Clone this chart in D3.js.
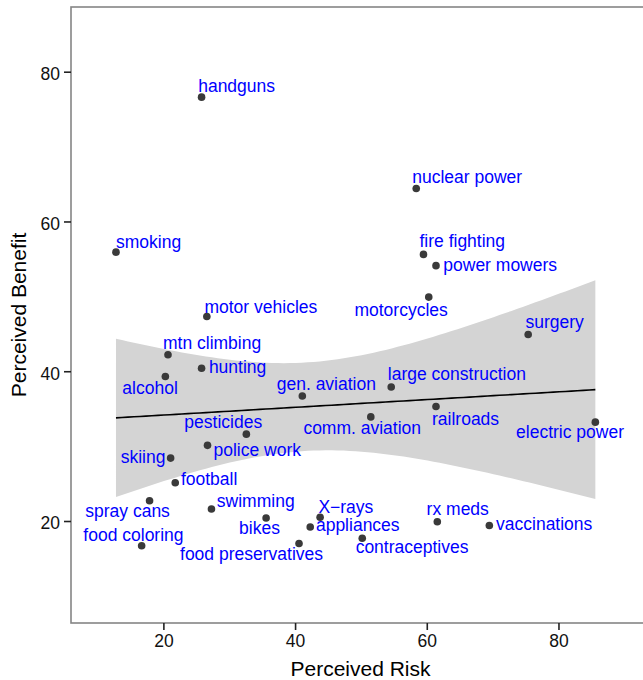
<!DOCTYPE html>
<html>
<head>
<meta charset="utf-8">
<script src="https://cdn.jsdelivr.net/npm/d3@7/dist/d3.min.js"></script>
<style>
  html, body { margin: 0; padding: 0; background: #fff; }
  svg { display: block; font-family: "Liberation Sans", Arial, Helvetica, sans-serif; }
</style>
</head>
<body>
<svg id="chart" width="643" height="680"></svg>
<script>
// Perceived risk vs. perceived benefit of activities and technologies
const activities = [
  "handguns", "smoking", "nuclear power", "fire fighting", "power mowers",
  "motorcycles", "surgery", "electric power", "motor vehicles", "mtn climbing",
  "hunting", "alcohol", "pesticides", "police work", "skiing",
  "football", "spray cans", "food coloring", "swimming", "bikes",
  "X\u2212rays", "appliances", "food preservatives", "contraceptives", "rx meds",
  "vaccinations", "gen. aviation", "large construction", "comm. aviation", "railroads"
];
const risk = [
  25.8, 12.8, 58.4, 59.5, 61.4,
  60.3, 75.4, 85.6, 26.6, 20.7,
  25.8, 20.3, 32.6, 26.7, 21.1,
  21.8, 17.9, 16.7, 27.3, 35.6,
  43.8, 42.3, 40.6, 50.2, 61.6,
  69.5, 41.1, 54.6, 51.5, 61.4
];
const benefit = [
  76.6, 55.9, 64.4, 55.6, 54.1,
  49.9, 44.9, 33.2, 47.3, 42.2,
  40.4, 39.3, 31.6, 30.1, 28.4,
  25.1, 22.7, 16.7, 21.6, 20.4,
  20.5, 19.2, 17.0, 17.7, 19.9,
  19.4, 36.7, 37.9, 33.9, 35.3
];
const xTicks = [20, 40, 60, 80];
const yTicks = [20, 40, 60, 80];

// Label placement relative to each point (pixels: left edge, baseline)
const labelNudge = [
  [-3.4, -5], [0, -3.7], [-4, -5.4], [-4, -7.6], [7.3, 5],
  [-74.3, 18.4], [-2.7, -6.4], [-79.3, 16], [-2.4, -4], [-5, -5.7],
  [7.3, 4.4], [-43, 17.6], [-62, -6], [6, 11], [-50, 4.4],
  [5.7, 2], [-64.3, 16], [-58.3, -5], [5.4, -2.3], [-27, 16],
  [-1.7, -4.3], [5.7, 4.4], [-119, 16.3], [-6.6, 15], [-10.7, -6.7],
  [6.7, 4], [-25.6, -6.4], [-3.4, -7.3], [-67.4, 17.3], [-4, 18.3]
];

const data = activities.map((name, i) => ({ name, x: risk[i], y: benefit[i], nudge: labelNudge[i] }));

const svg = d3.select("#chart");
const panel = { left: 71, top: 7, right: 650, bottom: 623 };

const x = d3.scaleLinear().domain([5.97, 93.9]).range([panel.left, panel.right]);
const y = d3.scaleLinear().domain([6.38, 88.64]).range([panel.bottom, panel.top]);

// Linear fit with 95% confidence band
const n = data.length;
const mx = d3.mean(data, d => d.x), my = d3.mean(data, d => d.y);
const sxx = d3.sum(data, d => (d.x - mx) ** 2);
const sxy = d3.sum(data, d => (d.x - mx) * (d.y - my));
const slope = sxy / sxx, intercept = my - slope * mx;
const sse = d3.sum(data, d => (d.y - (intercept + slope * d.x)) ** 2);
const se = Math.sqrt(sse / (n - 2));
const tCrit = 2.048; // t(0.975, df = 28)
const [xmin, xmax] = d3.extent(data, d => d.x);
const fit = d3.range(0, 81).map(k => {
  const xv = xmin + (xmax - xmin) * k / 80;
  const yv = intercept + slope * xv;
  const hw = tCrit * se * Math.sqrt(1 / n + (xv - mx) ** 2 / sxx);
  return { x: xv, y: yv, lo: yv - hw, hi: yv + hw };
});

svg.append("defs").append("clipPath").attr("id", "panel-clip")
  .append("rect").attr("x", panel.left).attr("y", panel.top)
  .attr("width", panel.right - panel.left).attr("height", panel.bottom - panel.top);

const g = svg.append("g").attr("clip-path", "url(#panel-clip)");

g.append("path")
  .datum(fit)
  .attr("fill", "#d4d4d4")
  .attr("d", d3.area().x(d => x(d.x)).y0(d => y(d.lo)).y1(d => y(d.hi)));

g.append("path")
  .datum(fit)
  .attr("fill", "none")
  .attr("stroke", "#000")
  .attr("stroke-width", 1.6)
  .attr("d", d3.line().x(d => x(d.x)).y(d => y(d.y)));

g.selectAll("circle.pt")
  .data(data)
  .join("circle")
  .attr("class", "pt")
  .attr("cx", d => x(d.x))
  .attr("cy", d => y(d.y))
  .attr("r", 3.8)
  .attr("fill", "#3a3a3a");

g.selectAll("text.lbl")
  .data(data)
  .join("text")
  .attr("class", "lbl")
  .attr("x", d => x(d.x) + d.nudge[0])
  .attr("y", d => y(d.y) + d.nudge[1])
  .attr("fill", "#0000ff")
  .attr("font-size", 17.5)
  .text(d => d.name);

// Panel border
svg.append("rect")
  .attr("x", panel.left).attr("y", panel.top)
  .attr("width", panel.right - panel.left).attr("height", panel.bottom - panel.top)
  .attr("fill", "none")
  .attr("stroke", "#858585")
  .attr("stroke-width", 1.6);

// Axes
const xAxis = svg.append("g")
  .attr("transform", `translate(0,${panel.bottom})`)
  .call(d3.axisBottom(x).tickValues(xTicks).tickSize(7).tickPadding(5));
const yAxis = svg.append("g")
  .attr("transform", `translate(${panel.left},0)`)
  .call(d3.axisLeft(y).tickValues(yTicks).tickSize(7).tickPadding(4));

[xAxis, yAxis].forEach(ax => {
  ax.select(".domain").remove();
  ax.selectAll(".tick line").attr("stroke", "#222").attr("stroke-width", 1.6);
  ax.selectAll(".tick text")
    .attr("fill", "#111")
    .attr("font-size", 17.5)
    .attr("font-family", "'Liberation Sans', Arial, Helvetica, sans-serif");
});
yAxis.selectAll(".tick text").attr("dy", "0.45em");

svg.append("text")
  .attr("x", (panel.left + panel.right) / 2)
  .attr("y", 676)
  .attr("text-anchor", "middle")
  .attr("font-size", 21)
  .attr("fill", "#000")
  .text("Perceived Risk");

svg.append("text")
  .attr("transform", `translate(26,${(panel.top + panel.bottom) / 2}) rotate(-90)`)
  .attr("text-anchor", "middle")
  .attr("font-size", 21)
  .attr("fill", "#000")
  .text("Perceived Benefit");
</script>
</body>
</html>
